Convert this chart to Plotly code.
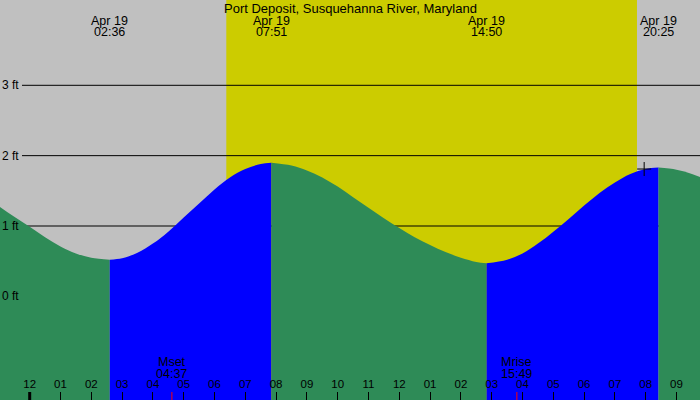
'''
    Tide chart for Port Deposit, Susquehanna River, Maryland (Apr 19).
    Rising water is drawn blue, falling water green, daylight in yellow.
'''

import plotly.graph_objects as go

DAY = '2025-04-19 '
PREV = '2025-04-18 '

# tide height (ft), one list per rising / falling stretch
FALL_1_TIME = [PREV + '22:00', PREV + '22:30', PREV + '23:00', PREV + '23:30', DAY + '00:00',
               DAY + '00:30', DAY + '01:00', DAY + '01:30', DAY + '02:00', DAY + '02:36']
FALL_1_FT = [1.57, 1.43, 1.28, 1.13, 0.99, 0.84, 0.71, 0.61, 0.55, 0.52]

RISE_1_TIME = [DAY + '02:36', DAY + '03:00', DAY + '03:30', DAY + '04:00', DAY + '04:30', DAY + '05:00',
               DAY + '05:30', DAY + '06:00', DAY + '06:30', DAY + '07:00', DAY + '07:30', DAY + '07:51']
RISE_1_FT = [0.52, 0.54, 0.62, 0.75, 0.92, 1.12, 1.32, 1.52, 1.69, 1.81, 1.88, 1.90]

FALL_2_TIME = [DAY + '07:51', DAY + '08:30', DAY + '09:00', DAY + '09:30', DAY + '10:00', DAY + '10:30',
               DAY + '11:00', DAY + '11:30', DAY + '12:00', DAY + '12:30', DAY + '13:00', DAY + '13:30',
               DAY + '14:00', DAY + '14:30', DAY + '14:50']
FALL_2_FT = [1.90, 1.86, 1.79, 1.69, 1.56, 1.41, 1.26, 1.11, 0.97, 0.84, 0.73, 0.63, 0.55, 0.49, 0.47]

RISE_2_TIME = [DAY + '14:50', DAY + '15:30', DAY + '16:00', DAY + '16:30', DAY + '17:00', DAY + '17:30',
               DAY + '18:00', DAY + '18:30', DAY + '19:00', DAY + '19:30', DAY + '20:00', DAY + '20:25']
RISE_2_FT = [0.47, 0.52, 0.61, 0.75, 0.92, 1.10, 1.29, 1.47, 1.62, 1.74, 1.81, 1.83]

FALL_3_TIME = [DAY + '20:25', DAY + '21:00', DAY + '21:30', DAY + '22:00', DAY + '22:30']
FALL_3_FT = [1.83, 1.80, 1.74, 1.65, 1.53]

# high / low tide times shown along the top
EXTREME_TIMES = [DAY + '02:36', DAY + '07:51', DAY + '14:50', DAY + '20:25']
EXTREME_DATES = ['Apr 19', 'Apr 19', 'Apr 19', 'Apr 19']
EXTREME_LABELS = ['02:36', '07:51', '14:50', '20:25']

# sunrise / sunset
SUN_TIMES = [DAY + '06:23', DAY + '19:43']

# moon set / rise
MOON_TIMES = [DAY + '04:37', DAY + '15:49']
MOON_NAMES = ['Mset', 'Mrise']
MOON_LABELS = ['04:37', '15:49']

# current time marker
NOW_TIME = [DAY + '19:57']
NOW_FT = [1.81]

LEVELS = [0, 1, 2, 3]
LEVEL_LABELS = ['0 ft', '1 ft', '2 ft', '3 ft']

MIDNIGHT = DAY + '00:00'

X_RANGE = [PREV + '23:02:10', DAY + '21:45:45']
Y_RANGE = [-1.4733, 4.2125]
FLOOR = -2

GRAY = '#c0c0c0'
YELLOW = '#cccc00'
GREEN = '#2e8b57'
BLUE = '#0000ff'
FONT = 'Liberation Sans, Arial, sans-serif'


def add_stretch(fig, times, heights, color):
    '''
        Adds one rising or falling stretch, filled down to the bottom.
    '''
    fig.add_trace(go.Scatter(x=times, y=[FLOOR] * len(times), mode='lines',
                             line=dict(width=0), hoverinfo='skip', showlegend=False))
    fig.add_trace(go.Scatter(x=times, y=heights, mode='lines', line_shape='spline',
                             line=dict(width=0, color=color), fill='tonexty',
                             fillcolor=color, showlegend=False))


fig = go.Figure()

add_stretch(fig, FALL_1_TIME, FALL_1_FT, GREEN)
add_stretch(fig, RISE_1_TIME, RISE_1_FT, BLUE)
add_stretch(fig, FALL_2_TIME, FALL_2_FT, GREEN)
add_stretch(fig, RISE_2_TIME, RISE_2_FT, BLUE)
add_stretch(fig, FALL_3_TIME, FALL_3_FT, GREEN)

fig.add_trace(go.Scatter(x=NOW_TIME, y=NOW_FT, mode='markers',
                         marker=dict(symbol='cross-thin', size=10,
                                     line=dict(width=1, color='black')),
                         showlegend=False))

# daylight band
fig.add_shape(type='rect', xref='x', yref='paper', x0=SUN_TIMES[0], x1=SUN_TIMES[1],
              y0=0, y1=1, fillcolor=YELLOW, line_width=0, layer='below')

# height lines
for level in LEVELS[1:]:
    fig.add_shape(type='line', xref='paper', yref='y', x0=22 / 700, x1=1, y0=level, y1=level,
                  line=dict(color='black', width=1), layer='below')

for level, label in zip(LEVELS, LEVEL_LABELS):
    fig.add_annotation(x=0, y=level, xref='paper', yref='y', text=label, showarrow=False,
                       xanchor='left', yanchor='middle', font=dict(size=12))

# midnight and moon ticks
fig.add_shape(type='line', xref='x', yref='paper', x0=MIDNIGHT, x1=MIDNIGHT, y0=0, y1=8 / 400,
              line=dict(color='black', width=3))
for t in MOON_TIMES:
    fig.add_shape(type='line', xref='x', yref='paper', x0=t, x1=t, y0=0, y1=8 / 400,
                  line=dict(color='red', width=1))

for t, d, lab in zip(EXTREME_TIMES, EXTREME_DATES, EXTREME_LABELS):
    fig.add_annotation(x=t, y=1, xref='x', yref='paper', text=d, showarrow=False,
                       yanchor='top', yshift=-12, font=dict(size=12.5))
    fig.add_annotation(x=t, y=1, xref='x', yref='paper', text=lab, showarrow=False,
                       yanchor='top', yshift=-23, font=dict(size=12.5))

for t, name, lab in zip(MOON_TIMES, MOON_NAMES, MOON_LABELS):
    fig.add_annotation(x=t, y=0, xref='x', yref='paper', text=name, showarrow=False,
                       yanchor='bottom', yshift=29, font=dict(size=12.5))
    fig.add_annotation(x=t, y=0, xref='x', yref='paper', text=lab, showarrow=False,
                       yanchor='bottom', yshift=17, font=dict(size=12.5))

fig.add_annotation(x=0.5, y=1, xref='paper', yref='paper', showarrow=False, yanchor='top',
                   yshift=1, text='Port Deposit, Susquehanna River, Maryland', font=dict(size=13))

fig.update_layout(
    width=700, height=400,
    margin=dict(l=0, r=0, t=0, b=0, pad=0, autoexpand=False),
    paper_bgcolor=GRAY, plot_bgcolor=GRAY,
    font=dict(family=FONT, color='black'),
    dragmode=False,
    hovermode=False,
    xaxis=dict(type='date', range=X_RANGE, tickformat='%I', dtick=3600000, tick0=MIDNIGHT,
               ticks='inside', ticklen=8, tickwidth=1, tickcolor='black',
               ticklabelposition='inside', ticklabelstandoff=1, layer='above traces',
               showgrid=False, zeroline=False, showline=False, automargin=False,
               tickfont=dict(size=11.5, color='black')),
    yaxis=dict(range=Y_RANGE, showticklabels=False, showgrid=False, zeroline=False,
               showline=False, ticks='', automargin=False),
)

# the page's default body margin would push the chart 8px in
fig.write_html('out.html', config={'displayModeBar': False},
               post_script="document.body.style.margin='0';")
